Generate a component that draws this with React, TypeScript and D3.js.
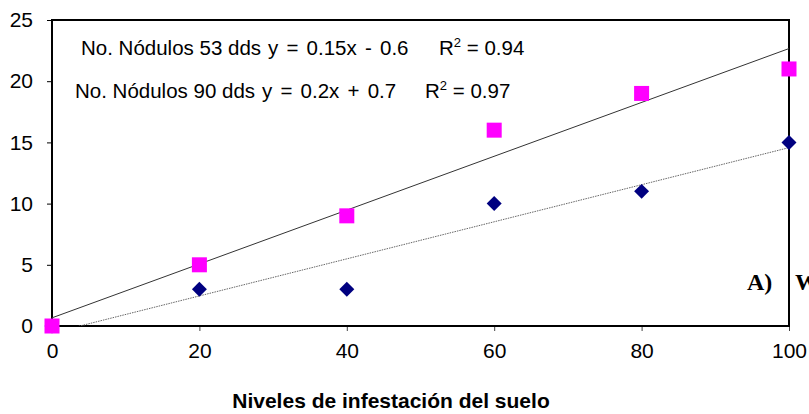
import React, { useEffect, useRef } from 'react';
import * as d3 from 'd3';

const levels = [0, 20, 40, 60, 80, 100];
const nod53 = [0, 3, 3, 10, 11, 15];
const nod90 = [0, 5, 9, 16, 19, 21];
const xTicks = [0, 20, 40, 60, 80, 100];
const yTicks = [0, 5, 10, 15, 20, 25];
const eqLabels = [
  { name: 'No. Nódulos 53 dds', eq: 'y = 0.15x - 0.6', r2: '0.94' },
  { name: 'No. Nódulos 90 dds', eq: 'y = 0.2x + 0.7', r2: '0.97' },
];

// least squares fit
const fit = (xs: number[], ys: number[]) => {
  const mx = d3.mean(xs)!;
  const my = d3.mean(ys)!;
  const sxy = d3.sum(xs, (x, i) => (x - mx) * (ys[i] - my));
  const sxx = d3.sum(xs, (x) => (x - mx) ** 2);
  const slope = sxy / sxx;
  return { slope, intercept: my - slope * mx };
};

const sans = 'Liberation Sans, Arial, sans-serif';

export default function App() {
  const svgRef = useRef<SVGSVGElement>(null);
  const width = 809;
  const height = 414;

  useEffect(() => {
    const svg = d3.select(svgRef.current);
    svg.selectAll('*').remove();

    const x = d3.scaleLinear().domain([0, 100]).range([52, 789]);
    const y = d3.scaleLinear().domain([0, 25]).range([326, 20]);

    svg.append('defs').append('clipPath').attr('id', 'plot-clip')
      .append('rect')
      .attr('x', x(0)).attr('y', y(25))
      .attr('width', x(100) - x(0)).attr('height', y(0) - y(25));

    // axes
    const yAxis = svg.append('g')
      .attr('transform', `translate(${x(0)},0)`)
      .call(d3.axisLeft(y).tickValues(yTicks).tickSize(5).tickPadding(14));
    yAxis.select('.domain').remove();
    yAxis.selectAll('text')
      .style('font-family', sans)
      .style('font-size', '21px')
      .attr('fill', '#000');

    const xAxis = svg.append('g')
      .attr('transform', `translate(0,${y(0)})`)
      .call(d3.axisBottom(x).tickValues(xTicks).tickSize(5).tickPadding(12));
    xAxis.select('.domain').remove();
    xAxis.selectAll('line').attr('stroke', '#444');
    xAxis.selectAll('text')
      .style('font-family', sans)
      .style('font-size', '21px')
      .attr('fill', '#000');

    // plot border
    svg.append('rect')
      .attr('x', x(0)).attr('y', y(25))
      .attr('width', x(100) - x(0)).attr('height', y(0) - y(25))
      .attr('fill', 'none').attr('stroke', '#000').attr('stroke-width', 2);

    // trend lines
    const f53 = fit(levels, nod53);
    const f90 = fit(levels, nod90);
    const trend = svg.append('g').attr('clip-path', 'url(#plot-clip)');
    trend.append('line')
      .attr('x1', x(0)).attr('y1', y(f53.intercept))
      .attr('x2', x(100)).attr('y2', y(f53.intercept + f53.slope * 100))
      .attr('stroke', '#666').attr('stroke-width', 1)
      .attr('stroke-dasharray', '1.5,1');
    trend.append('line')
      .attr('x1', x(0)).attr('y1', y(f90.intercept))
      .attr('x2', x(100)).attr('y2', y(f90.intercept + f90.slope * 100))
      .attr('stroke', '#333').attr('stroke-width', 1);

    // markers
    svg.append('g').selectAll('path')
      .data(levels)
      .enter()
      .append('path')
      .attr('d', d3.symbol(d3.symbolSquare, 112)() as string)
      .attr('transform', (d, i) => `translate(${x(d)},${y(nod53[i])}) rotate(45)`)
      .attr('fill', '#000080');

    svg.append('g').selectAll('rect')
      .data(levels)
      .enter()
      .append('rect')
      .attr('x', (d) => x(d) - 7.5)
      .attr('y', (d, i) => y(nod90[i]) - 7.5)
      .attr('width', 15).attr('height', 15)
      .attr('fill', '#FF00FF');

    // equations
    const eqPos = [
      { y: 55, name: 81, eq: 268, r: 439 },
      { y: 98, name: 75, eq: 262, r: 425 },
    ];
    const eq = svg.append('g')
      .style('font-family', sans)
      .style('font-size', '20.5px')
      .attr('fill', '#000');
    eqLabels.forEach((l, i) => {
      const p = eqPos[i];
      eq.append('text').attr('x', p.name).attr('y', p.y).text(l.name);
      eq.append('text').attr('x', p.eq).attr('y', p.y)
        .style('word-spacing', '2.5px').text(l.eq);
      const t = eq.append('text').attr('x', p.r).attr('y', p.y);
      t.append('tspan').text('R');
      t.append('tspan').attr('dy', -8).style('font-size', '13px').text('2');
      t.append('tspan').attr('dy', 8).text(` = ${l.r2}`);
    });

    // axis title
    svg.append('text')
      .attr('x', 391).attr('y', 408)
      .attr('text-anchor', 'middle')
      .style('font-family', sans)
      .style('font-size', '21px')
      .style('font-weight', 'bold')
      .text('Niveles de infestación del suelo');

    // panel label
    const lbl = svg.append('g')
      .style('font-family', 'Liberation Serif, Times New Roman, serif')
      .style('font-size', '24px')
      .style('font-weight', 'bold');
    lbl.append('text').attr('x', 747).attr('y', 290).text('A)');
    lbl.append('text').attr('x', 795).attr('y', 290).text('W');
  }, []);

  return (
    <svg
      ref={svgRef}
      width={width}
      height={height}
      style={{ position: 'absolute', left: 0, top: 0, background: 'white' }}
    />
  );
}
